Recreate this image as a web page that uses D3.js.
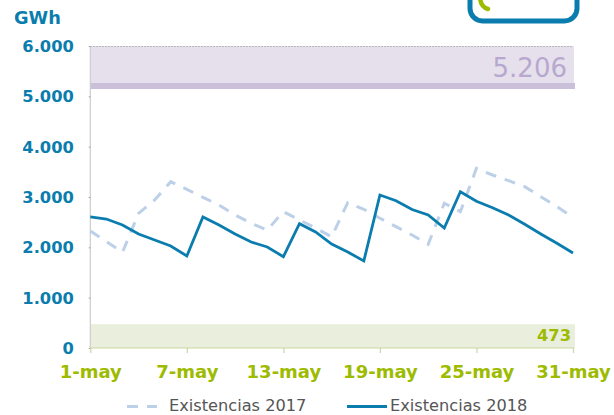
<!DOCTYPE html>
<html>
<head>
<meta charset="utf-8">
<script src="https://cdn.jsdelivr.net/npm/d3@7"></script>
<style>html,body{margin:0;padding:0;background:#fff}svg{display:block}text{font-family:"DejaVu Sans",sans-serif}</style>
</head>
<body>
<svg id="c" width="614" height="415"></svg>
<script>
const days = d3.range(1, 32);
const series2017 = [2325,2114,1901,2676,2940,3304,3153,2994,2841,2642,2478,2344,2708,2543,2384,2211,2887,2756,2577,2410,2245,2060,2875,2708,3570,3437,3324,3205,3006,2807,2597];
const series2018 = [2603,2563,2444,2265,2146,2027,1828,2603,2444,2265,2106,2007,1814,2470,2305,2066,1907,1729,3040,2927,2752,2642,2384,3105,2915,2787,2642,2458,2265,2080,1887];
const yTicks = [0,1000,2000,3000,4000,5000,6000];
const yTickLabels = ["0","1.000","2.000","3.000","4.000","5.000","6.000"];
const xTicks = [1,7,13,19,25,31];
const xTickLabels = ["1-may","7-may","13-may","19-may","25-may","31-may"];
const upperLimit = 5206, lowerLimit = 473, yMax = 6000;
const upperLabel = "5.206", lowerLabel = "473";
const legendLabels = ["Existencias 2017","Existencias 2018"];

const svg = d3.select("#c");
const x = d3.scaleLinear().domain([1,31]).range([90.3,573]);
const y = d3.scaleLinear().domain([0,yMax]).range([348,46]);
const blue = "#0a7dae", green = "#9dbb00", dash = "#bcd0e8";

// logo fragment
svg.append("path").attr("d","M470,-10 V8.5 A12.5,12.5 0 0 0 482.5,21 H564.5 A12.5,12.5 0 0 0 577,8.5 V-10")
  .attr("fill","none").attr("stroke",blue).attr("stroke-width",5);
svg.append("path").attr("d","M480,-3 Q480.5,7 488,9").attr("fill","none").attr("stroke",green).attr("stroke-width",4.5).attr("stroke-linecap","round");

// bands
svg.append("rect").attr("x",x(1)).attr("width",x(31)-x(1)+1).attr("y",y(yMax)).attr("height",y(upperLimit)-y(yMax)).attr("fill","#e5e0ec");
svg.append("rect").attr("x",x(1)).attr("width",x(31)-x(1)+2).attr("y",y(lowerLimit)).attr("height",y(0)-y(lowerLimit)).attr("fill","#e9eedd");
svg.append("line").attr("x1",x(1)).attr("x2",x(31)+2).attr("y1",y(upperLimit)).attr("y2",y(upperLimit)).attr("stroke","#cbc0da").attr("stroke-width",6);
svg.append("line").attr("x1",x(1)).attr("x2",x(31)).attr("y1",y(yMax)+.5).attr("y2",y(yMax)+.5).attr("stroke","#aaa").attr("stroke-width",1.2).attr("stroke-dasharray","1.5 1.5");

// axes
const gy = svg.append("g").attr("transform",`translate(${x(1)},0)`)
  .call(d3.axisLeft(y).tickValues(yTicks).tickFormat((d,i)=>yTickLabels[i]).tickSize(1.5).tickPadding(15));
gy.select(".domain").attr("stroke","#ccc").attr("stroke-width",1.2).attr("d",`M0,${y(yMax)}V${y(0)}`);
gy.selectAll(".tick line").attr("stroke","#999");
gy.selectAll("text").attr("fill",blue).attr("font-weight","bold").attr("font-size",16.3).attr("dy","0.34em").style("font-family",'"DejaVu Sans"');
const gx = svg.append("g").attr("transform",`translate(0,${y(0)})`)
  .call(d3.axisBottom(x).tickValues(xTicks).tickFormat((d,i)=>xTickLabels[i]).tickSize(5).tickPadding(12));
gx.select(".domain").attr("stroke","#c8d8a0").attr("stroke-width",1.2).attr("d",`M${x(1)},0H${x(31)+1}`);
gx.selectAll(".tick line").attr("stroke","#c8d8a0").attr("stroke-width",1.2);
gx.selectAll("text").attr("fill",green).attr("font-weight","bold").attr("font-size",18).style("font-family",'"DejaVu Sans"');

// lines
const line = d3.line().x((d,i)=>x(days[i])).y(d=>y(d));
svg.append("path").datum(series2017).attr("d",line).attr("fill","none").attr("stroke",dash).attr("stroke-width",3).attr("stroke-dasharray","11 9");
svg.append("path").datum(series2018).attr("d",line).attr("fill","none").attr("stroke",blue).attr("stroke-width",2.8);

// texts
svg.append("text").attr("x",14).attr("y",24).attr("fill",blue).attr("font-weight","bold").attr("font-size",17.8).text("GWh");
svg.append("text").attr("x",567).attr("y",77).attr("text-anchor","end").attr("fill","#b8a8cf").attr("font-size",26).text(upperLabel);
svg.append("text").attr("x",571).attr("y",341).attr("text-anchor","end").attr("fill",green).attr("font-weight","bold").attr("font-size",16.3).text(lowerLabel);

// legend
svg.append("line").attr("x1",127).attr("x2",157).attr("y1",406.5).attr("y2",406.5).attr("stroke",dash).attr("stroke-width",3).attr("stroke-dasharray","11 9");
svg.append("text").attr("x",169).attr("y",411).attr("fill","#555").attr("font-size",16.2).text(legendLabels[0]);
svg.append("line").attr("x1",347).attr("x2",387).attr("y1",406.5).attr("y2",406.5).attr("stroke",blue).attr("stroke-width",3);
svg.append("text").attr("x",390).attr("y",411).attr("fill","#555").attr("font-size",16.2).text(legendLabels[1]);
</script>
</body>
</html>
